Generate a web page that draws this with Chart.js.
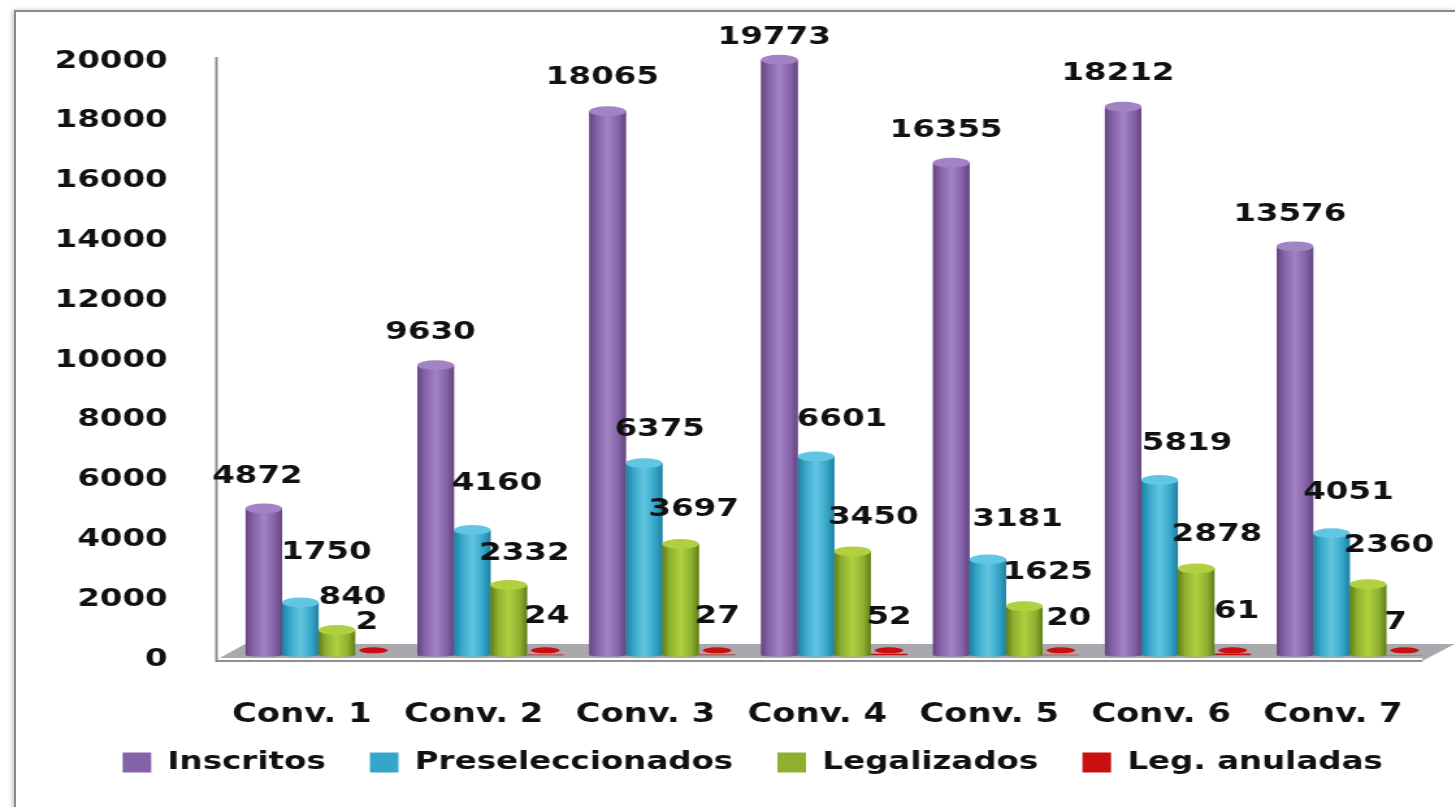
<!DOCTYPE html>
<html>
<head>
<meta charset="utf-8">
<title>Convocatorias</title>
<script src="https://cdn.jsdelivr.net/npm/chart.js@4"></script>
<style>
    html, body { margin: 0; padding: 0; background: #fff; overflow: hidden; }
    #wrap { width: 1455px; height: 807px; position: relative; overflow: hidden; }
    #frame { position: absolute; left: 14px; top: 10px; right: -4px; bottom: -4px; border: 2px solid #8a8a8a; box-shadow: -2px 0 4px #ccc; }
    /* the original picture is a stretched image: draw narrow and widen it */
    #chart { position: absolute; left: 0; top: 0; transform-origin: 0 0; transform: scaleX(1.3); filter: blur(0.5px); }
</style>
</head>
<body>
<div id="wrap">
    <div id="frame"></div>
    <canvas id="chart"></canvas>
</div>
<script>
const categories = ['Conv. 1', 'Conv. 2', 'Conv. 3', 'Conv. 4', 'Conv. 5', 'Conv. 6', 'Conv. 7'];
const inscritos = [4872, 9630, 18065, 19773, 16355, 18212, 13576];
const preseleccionados = [1750, 4160, 6375, 6601, 3181, 5819, 4051];
const legalizados = [840, 2332, 3697, 3450, 1625, 2878, 2360];
const anuladas = [2, 24, 27, 52, 20, 61, 7];
const seriesNames = ['Inscritos', 'Preseleccionados', 'Legalizados', 'Leg. anuladas'];
const yTicks = [0, 2000, 4000, 6000, 8000, 10000, 12000, 14000, 16000, 18000, 20000];

// colores: base, claro, oscuro
const colors = [
    ['#8462a8', '#a283c4', '#63457f'],
    ['#35a6c9', '#62c6e2', '#207f9e'],
    ['#8fb02f', '#b0d040', '#5f7d18'],
    ['#c81010', '#f02020', '#900000']
];

// desplazamiento de cada etiqueta respecto a la cima de su barra (px de canvas)
const labelShift = [
    [[-5, -32], [-4, -33], [-4, -34], [-4, -22], [-4, -32], [-4, -33], [-4, -32]],
    [[20, -50], [19, -46], [12, -34], [20, -37], [23, -40], [21, -37], [13, -41]],
    [[12, -32], [12, -32], [10, -34], [16, -34], [18, -34], [16, -34], [16, -39]],
    [[-5, -33], [1, -38], [0, -38], [0, -36], [6, -36], [3, -42], [-7, -33]]
];

const STRETCH = 1.3;
const plotWidth = Math.round(1455 / STRETCH);
const canvas = document.getElementById('chart');
// un poco mas ancho que la ventana: Chart.js reserva sitio a la derecha para la ultima etiqueta
canvas.width = plotWidth + 6;
canvas.height = 807;

const font = 'DejaVu Sans';

// Suelo, eje vertical y cilindros
const cylinders = {
    id: 'cylinders',
    afterLayout(chart) {
        // la leyenda va mas arriba y algo a la derecha que donde la deja el layout
        chart.legend.top = 716;
        chart.legend.left += 17;
        chart.legend.right += 17;
    },
    beforeDatasetsDraw(chart) {
        const ctx = chart.ctx;
        const a = chart.chartArea;
        const left = a.left - 12.5;
        const right = plotWidth - 25;
        ctx.save();
        ctx.fillStyle = '#a9a9ad';
        ctx.beginPath();
        ctx.moveTo(left + 1, a.bottom);
        ctx.lineTo(left + 22, a.bottom - 15);
        ctx.lineTo(plotWidth, a.bottom - 15);
        ctx.lineTo(right, a.bottom + 2);
        ctx.closePath();
        ctx.fill();
        ctx.strokeStyle = '#8f8f8f';
        ctx.lineWidth = 2;
        ctx.beginPath();
        ctx.moveTo(left, 57);
        ctx.lineTo(left, a.bottom + 2);
        ctx.lineTo(right, a.bottom + 2);
        ctx.stroke();
        ctx.strokeStyle = '#fff';
        ctx.lineWidth = 2;
        ctx.beginPath();
        ctx.moveTo(left + 2, a.bottom);
        ctx.lineTo(right, a.bottom);
        ctx.stroke();
        ctx.restore();
    },
    afterDatasetsDraw(chart) {
        const ctx = chart.ctx;
        ctx.save();
        chart.data.datasets.forEach(function(ds, i) {
            chart.getDatasetMeta(i).data.forEach(function(bar, j) {
                const c = colors[i];
                const w = bar.width;
                const l = bar.x - w / 2;
                const capH = 5;
                if (i === 3) {
                    ctx.fillStyle = c[0];
                    ctx.beginPath();
                    ctx.ellipse(bar.x, bar.base - 5, w / 2 - 3, 3, 0, 0, Math.PI * 2);
                    ctx.fill();
                } else {
                    const grad = ctx.createLinearGradient(l, 0, l + w, 0);
                    grad.addColorStop(0, c[2]);
                    grad.addColorStop(0.2, c[0]);
                    grad.addColorStop(0.5, c[1]);
                    grad.addColorStop(0.8, c[0]);
                    grad.addColorStop(1, c[2]);
                    ctx.fillStyle = grad;
                    ctx.beginPath();
                    ctx.ellipse(bar.x, bar.base, w / 2, 1.5, 0, 0, Math.PI);
                    ctx.lineTo(l, bar.y);
                    ctx.lineTo(l + w, bar.y);
                    ctx.closePath();
                    ctx.fill();
                    ctx.fillStyle = c[1];
                    ctx.beginPath();
                    ctx.ellipse(bar.x, bar.y, w / 2, capH, 0, 0, Math.PI * 2);
                    ctx.fill();
                }
                // valor encima de la barra
                const s = labelShift[i][j];
                ctx.fillStyle = '#111';
                ctx.font = 'bold 25px "' + font + '"';
                ctx.textAlign = 'center';
                ctx.textBaseline = 'middle';
                ctx.fillText(ds.data[j], bar.x + s[0], bar.y + s[1]);
            });
        });
        ctx.restore();
    }
};

const datasets = [inscritos, preseleccionados, legalizados, anuladas].map(function(values, i) {
    return {
        label: seriesNames[i],
        data: values,
        yAxisID: 'y2',
        backgroundColor: colors[i][0],
        borderWidth: 0
    };
});

new Chart(canvas, {
    type: 'bar',
    data: { labels: categories, datasets: datasets },
    plugins: [cylinders],
    options: {
        responsive: false,
        animation: false,
        layout: { padding: { top: 45, right: 1, bottom: 7 } },
        datasets: { bar: { categoryPercentage: 0.85, barPercentage: 1 } },
        plugins: {
            tooltip: { enabled: false },
            legend: {
                position: 'bottom',
                labels: {
                    color: '#111',
                    font: { family: font, size: 25, weight: 'bold' },
                    boxWidth: 22,
                    boxHeight: 20,
                    padding: 34
                }
            }
        },
        scales: {
            x: {
                grid: { display: false },
                border: { display: false },
                afterFit(scale) { scale.height = 72; },
                ticks: {
                    color: '#111',
                    font: { family: font, size: 26, weight: 'bold' },
                    padding: 33,
                    labelOffset: -13,
                    maxRotation: 0
                }
            },
            // eje de las etiquetas: va un poco desplazado respecto a las barras, como en el 3D original
            y: {
                position: 'left',
                min: 0,
                max: 20134,
                afterBuildTicks(scale) {
                    scale.ticks = yTicks.map(v => ({ value: v }));
                },
                afterFit(scale) { scale.width = 179; },
                grid: { display: false },
                border: { display: false },
                ticks: {
                    color: '#111',
                    font: { family: font, size: 25, weight: 'bold' },
                    padding: 42,
                    callback: v => String(v)
                }
            },
            y2: { display: false, min: -123, max: 19864 }
        }
    }
});
</script>
</body>
</html>
